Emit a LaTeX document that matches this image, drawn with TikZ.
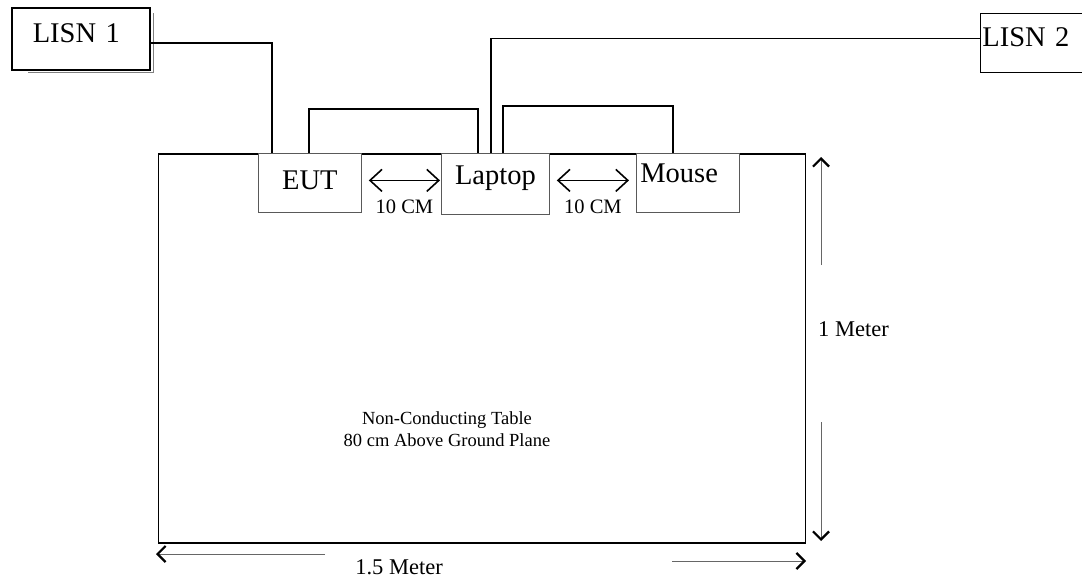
\documentclass[tikz,border=0pt]{standalone}
\usepackage{fontspec}
\setmainfont{Liberation Serif}
\usetikzlibrary{arrows.meta,positioning}

\begin{document}
\begin{tikzpicture}[x=1pt, y=-1pt]
\tikzset{
  unit/.style={draw=black!65, line width=0.8pt, fill=white, inner sep=0pt, anchor=north west, font=\fontsize{28.5}{32}\selectfont},
  lisn/.style={draw, fill=white, anchor=north west, align=left, font=\fontsize{28.5}{32}\selectfont},
  cable/.style={draw, line width=1.4pt},
  gap/.style={{Straight Barb[length=12pt,width=22pt,line width=1.6pt]}-{Straight Barb[length=12pt,width=22pt,line width=1.6pt]}, line width=1.4pt},
  dim/.style={-{Straight Barb[length=8pt,width=16pt,line width=2.2pt,black]}, draw=black!60, line width=0.8pt},
  small/.style={font=\fontsize{20.5}{24}\selectfont},
  dimtext/.style={font=\fontsize{22.5}{26}\selectfont}
}
\useasboundingbox (0,0) rectangle (1082,581);
% table
\node[draw, line width=1.6pt, minimum width=647pt, minimum height=389pt, anchor=north west, inner sep=0pt] (table) at (157.5,153) {};
\node[align=center, font=\fontsize{18.5}{22}\selectfont] (tabletext) at (447,429) {Non-Conducting Table\\80 cm Above Ground Plane};
% LISNs
\node[lisn, line width=1.6pt, minimum width=138pt, minimum height=62pt, text width=96pt, inner xsep=21pt, inner ysep=0pt, text depth=11pt] (lisn1) at (11,7) {LISN 1};
\draw[black!50, line width=0.8pt] ([xshift=3pt,yshift=-6pt]lisn1.north east) |- ([xshift=17pt,yshift=-2pt]lisn1.south west);
\node[lisn, line width=0.8pt, minimum width=114pt, minimum height=59pt, text width=110pt, inner xsep=2pt, inner ysep=0pt, text depth=11pt] (lisn2) at (980,13) {LISN 2};
% units on the table
\node[unit, minimum width=103pt, minimum height=59pt, text depth=5pt] (eut) at (258,153) {EUT};
\node[unit, minimum width=108pt, minimum height=61pt, text depth=17pt] (laptop) at (441,153) {Laptop};
\node[unit, minimum width=103pt, minimum height=59pt, text depth=19pt, text width=95pt, inner xsep=4pt, align=left] (mouse) at (636,153) {Mouse};
% cables
\draw[cable] ([yshift=-4pt]lisn1.east) -| ([xshift=14pt]eut.north west);
\draw[cable] ([xshift=51pt]eut.north west) -- ++(0,-44) -| ([xshift=37pt]laptop.north west);
\draw[cable] ([xshift=50pt]laptop.north west) |- ([yshift=4.5pt]lisn2.west);
\draw[cable] ([xshift=62pt]laptop.north west) -- ++(0,-47) -| ([xshift=37pt]mouse.north west);
% spacing
\draw[gap] ([xshift=7pt,yshift=2.5pt]eut.east) -- node[below=15pt, small] {10 CM} ([xshift=-1pt,yshift=2.5pt]eut.east -| laptop.west);
\draw[gap] ([xshift=7pt,yshift=3.5pt]laptop.east) -- node[below=15pt, small] {10 CM} ([xshift=-7pt,yshift=3.5pt]laptop.east -| mouse.west);
% dimensions
\node[dimtext, anchor=west, inner sep=0pt] (vlab) at (818,329) {1 Meter};
\coordinate (v1s) at (821,265);
\coordinate (v1e) at (821,157);
\coordinate (v2s) at (821,422);
\coordinate (v2e) at (821,541);
\draw[dim] (v1s) -- (v1e);
\draw[dim] (v2s) -- (v2e);
\node[dimtext] (hlab) at (399,567) {1.5 Meter};
\coordinate (h1s) at (325,554);
\coordinate (h1e) at (156,554);
\coordinate (h2s) at (672,561);
\coordinate (h2e) at (806,561);
\draw[dim] (h1s) -- (h1e);
\draw[dim] (h2s) -- (h2e);
\end{tikzpicture}
\end{document}
